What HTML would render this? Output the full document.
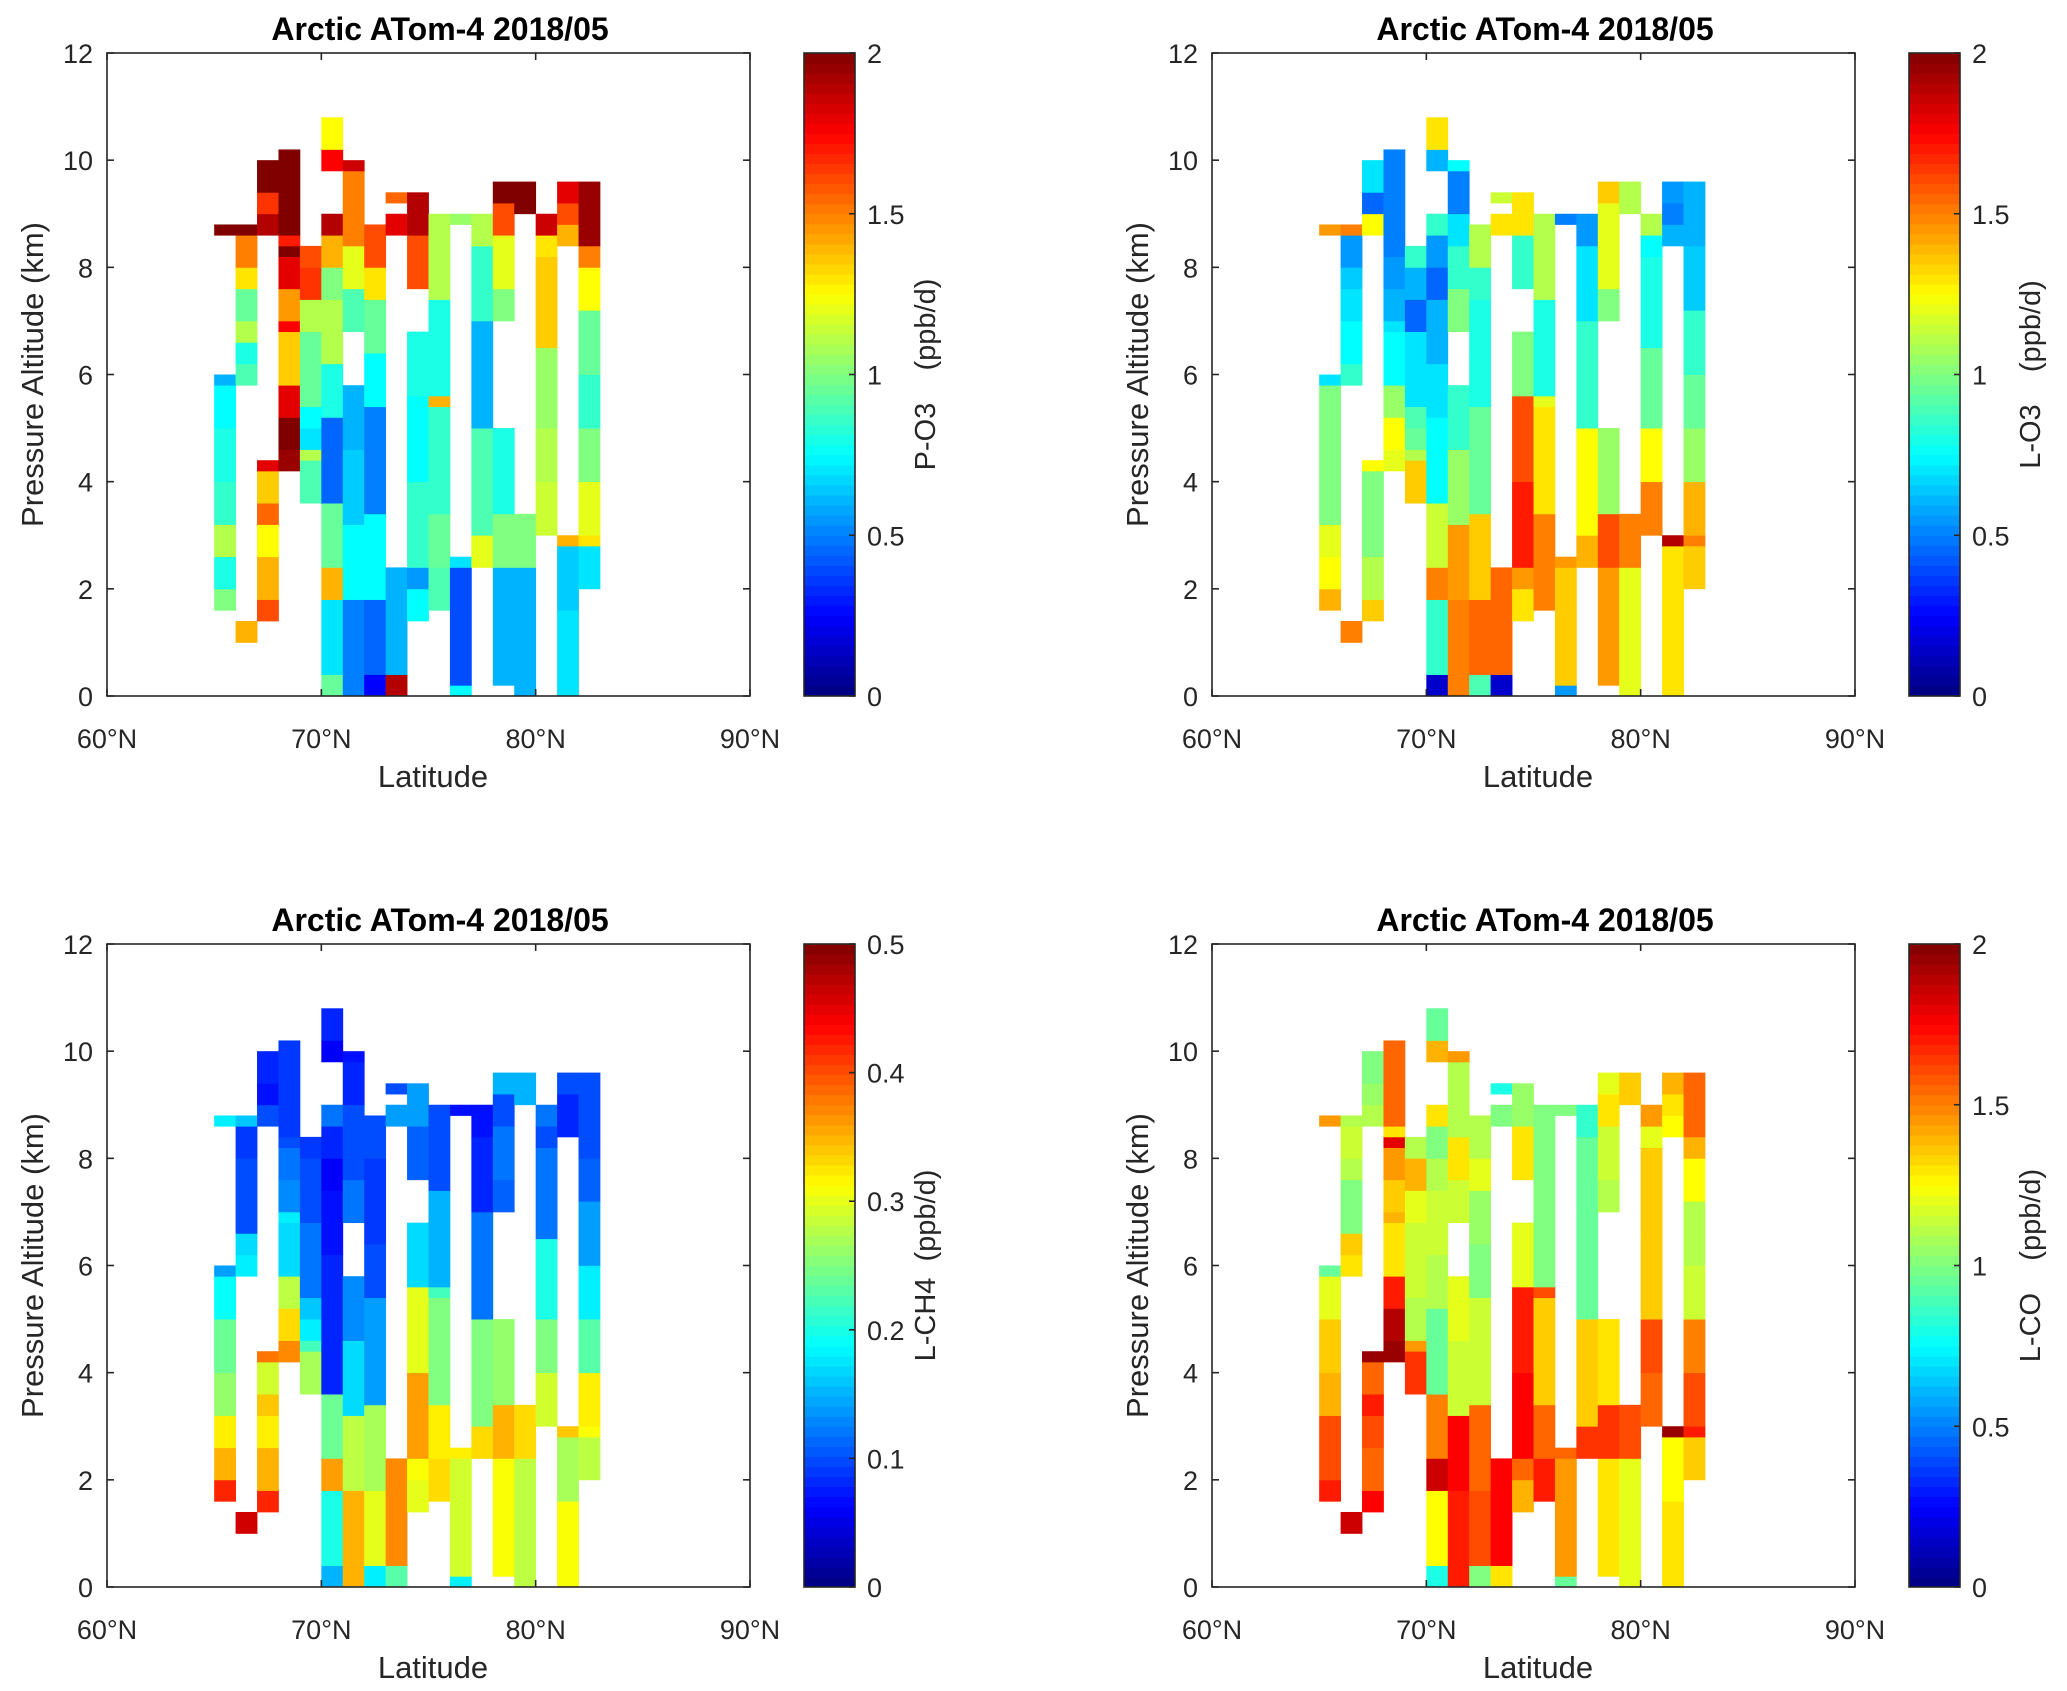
<!DOCTYPE html>
<html><head><meta charset="utf-8"><style>
html,body{margin:0;padding:0;background:#fff;}
svg{display:block;font-family:"Liberation Sans",Arial,sans-serif;}
</style></head><body>
<svg id="fig" width="2067" height="1691" viewBox="0 0 2067 1691" xmlns="http://www.w3.org/2000/svg"></svg>
<script>
// Shared bin segments [latitude bin start, z bottom km, z top km]
const segments = [
[65,1.6,2.0],[65,2.0,2.6],[65,2.6,3.2],[65,3.2,4.0],[65,4.0,5.0],[65,5.0,5.8],[65,5.8,6.0],[65,8.6,8.8],
[66,1.0,1.4],[66,5.8,6.2],[66,6.2,6.6],[66,6.6,7.0],[66,7.0,7.6],[66,7.6,8.0],[66,8.0,8.6],[66,8.6,8.8],
[67,1.4,1.8],[67,1.8,2.6],[67,2.6,3.2],[67,3.2,3.6],[67,3.6,4.2],[67,4.2,4.4],[67,8.6,9.0],[67,9.0,9.4],[67,9.4,10.0],
[68,4.2,4.6],[68,4.6,5.2],[68,5.2,5.8],[68,5.8,6.8],[68,6.8,7.0],[68,7.0,7.6],[68,7.6,8.2],[68,8.2,8.4],[68,8.4,8.6],[68,8.6,10.2],
[69,3.6,4.4],[69,4.4,4.6],[69,4.6,5.0],[69,5.0,5.4],[69,5.4,6.8],[69,6.8,7.4],[69,7.4,8.0],[69,8.0,8.4],
[70,0,0.4],[70,0.4,1.8],[70,1.8,2.4],[70,2.4,3.6],[70,3.6,5.2],[70,5.2,6.2],[70,6.2,7.4],[70,7.4,8.0],[70,8.0,8.6],[70,8.6,9.0],[70,9.8,10.2],[70,10.2,10.8],
[71,0,1.8],[71,1.8,3.2],[71,3.2,4.6],[71,4.6,5.8],[71,6.8,7.6],[71,7.6,8.4],[71,8.4,9.0],[71,9.0,9.8],[71,9.8,10.0],
[72,0,0.4],[72,0.4,1.8],[72,1.8,3.4],[72,3.4,5.4],[72,5.4,6.4],[72,6.4,7.4],[72,7.4,8.0],[72,8.0,8.8],
[73,0,0.4],[73,0.4,2.4],[73,8.6,9.0],[73,9.2,9.4],
[74,1.4,2.0],[74,2.0,2.4],[74,2.4,4.0],[74,4.0,5.6],[74,5.6,6.8],[74,7.6,8.6],[74,8.6,9.4],
[75,1.6,2.4],[75,2.4,3.4],[75,3.4,5.4],[75,5.4,5.6],[75,5.6,7.4],[75,7.4,9.0],
[76,0,0.2],[76,0.2,2.4],[76,2.4,2.6],[76,8.8,9.0],
[77,2.4,3.0],[77,3.0,5.0],[77,5.0,7.0],[77,7.0,8.4],[77,8.4,9.0],
[78,0.2,2.4],[78,2.4,3.4],[78,3.4,5.0],[78,7.0,7.6],[78,7.6,8.6],[78,8.6,9.2],[78,9.2,9.6],
[79,0,2.4],[79,2.4,3.4],[79,9.0,9.6],
[80,3.0,4.0],[80,4.0,5.0],[80,5.0,6.5],[80,6.5,8.2],[80,8.2,8.6],[80,8.6,9.0],
[81,0,1.6],[81,1.6,2.8],[81,2.8,3.0],[81,8.4,8.8],[81,8.8,9.2],[81,9.2,9.6],
[82,2.0,2.8],[82,2.8,3.0],[82,3.0,4.0],[82,4.0,5.0],[82,5.0,6.0],[82,6.0,7.2],[82,7.2,8.0],[82,8.0,8.4],[82,8.4,9.6]
];
const valsPO3 = [
1.0,0.8,1.1,0.85,0.8,0.75,0.6,2.0,
1.4,0.9,0.8,1.1,0.95,1.3,1.5,2.0,
1.6,1.4,1.25,1.55,1.35,1.8,1.9,1.65,2.0,
1.95,2.0,1.8,1.35,1.75,1.45,1.8,2.0,1.7,2.0,
0.9,1.1,0.7,0.75,0.95,1.1,1.65,1.6,
0.95,0.7,1.4,0.95,0.45,0.8,1.1,1.0,1.4,1.9,1.75,1.25,
0.5,0.75,0.65,0.6,0.9,1.2,1.5,1.5,1.85,
0.25,0.45,0.75,0.5,0.75,0.95,1.3,1.6,
1.9,0.6,1.8,1.55,
0.75,0.55,0.85,0.75,0.8,1.6,1.9,
0.9,0.95,0.85,1.4,0.8,1.1,
0.75,0.4,0.7,1.05,
1.2,0.9,0.6,0.85,1.1,
0.6,1.0,0.8,1.0,1.2,1.6,2.0,
0.6,1.0,2.0,
1.15,1.1,1.05,1.35,1.3,1.85,
0.7,0.65,1.4,1.4,1.6,1.8,
0.7,1.3,1.2,1.0,0.85,0.95,1.25,1.5,1.95
];
const valsLO3 = [
1.4,1.25,1.2,1.0,1.0,1.0,0.7,1.45,
1.5,0.85,0.75,0.75,0.7,0.65,0.55,1.5,
1.35,1.1,1.0,1.0,1.0,1.25,1.25,0.45,0.7,
1.2,1.25,1.05,0.75,0.7,0.6,0.55,0.5,0.5,0.5,
1.35,1.1,0.95,0.9,0.7,0.45,0.6,0.85,
0.15,0.85,1.5,1.15,0.75,0.7,0.6,0.45,0.55,0.85,0.6,1.3,
1.5,1.45,1.05,0.85,1.0,0.85,0.7,0.5,0.75,
0.9,1.55,1.35,0.95,0.8,0.8,0.85,1.1,
0.15,1.55,1.3,1.15,
1.3,1.45,1.7,1.6,1.0,0.85,1.3,
1.5,1.5,1.3,1.2,0.8,1.1,
0.55,1.35,1.45,0.5,
1.4,1.25,0.85,0.7,0.55,
1.45,1.6,1.05,1.0,1.2,1.2,1.35,
1.2,1.5,1.1,
1.5,1.25,0.95,0.8,0.75,1.1,
1.3,1.3,1.9,0.6,0.5,0.55,
1.35,1.5,1.4,1.05,0.95,0.85,0.65,0.65,0.6
];
const valsLCH4 = [
0.42,0.35,0.32,0.26,0.24,0.19,0.14,0.18,
0.46,0.18,0.17,0.1,0.1,0.1,0.09,0.16,
0.42,0.35,0.32,0.34,0.29,0.38,0.1,0.07,0.08,
0.37,0.33,0.28,0.17,0.18,0.13,0.12,0.1,0.09,0.09,
0.27,0.22,0.18,0.16,0.12,0.1,0.1,0.09,
0.15,0.2,0.36,0.24,0.08,0.08,0.07,0.06,0.08,0.12,0.06,0.08,
0.35,0.28,0.17,0.13,0.12,0.1,0.1,0.08,0.07,
0.18,0.3,0.27,0.14,0.1,0.09,0.09,0.1,
0.23,0.37,0.14,0.1,
0.3,0.31,0.36,0.3,0.17,0.11,0.14,
0.33,0.32,0.25,0.22,0.15,0.1,
0.18,0.29,0.32,0.07,
0.33,0.25,0.12,0.08,0.07,
0.31,0.35,0.26,0.11,0.12,0.1,0.15,
0.28,0.33,0.15,
0.29,0.25,0.2,0.12,0.1,0.12,
0.31,0.27,0.34,0.08,0.08,0.1,
0.28,0.31,0.32,0.23,0.18,0.14,0.11,0.1,0.1
];
const valsLCO = [
1.7,1.6,1.6,1.4,1.35,1.2,0.95,1.45,
1.85,1.3,1.35,1.0,1.0,1.1,1.15,1.1,
1.75,1.55,1.6,1.7,1.55,1.95,1.1,1.05,1.0,
1.95,1.9,1.7,1.3,1.4,1.35,1.45,1.8,1.3,1.55,
1.65,1.45,1.1,1.1,1.15,1.2,1.4,1.1,
0.8,1.25,1.85,1.5,0.95,1.1,1.15,1.1,1.0,1.3,1.4,0.95,
1.7,1.75,1.15,1.2,1.15,1.3,1.1,1.1,1.45,
1.0,1.6,1.55,1.15,1.0,1.05,1.2,1.1,
1.3,1.75,1.0,0.8,
1.4,1.55,1.75,1.7,1.2,1.3,1.05,
1.7,1.55,1.35,1.6,1.0,1.0,
0.95,1.45,1.55,1.0,
1.65,1.35,0.95,0.95,0.85,
1.3,1.65,1.3,1.1,1.15,1.3,1.2,
1.2,1.6,1.35,
1.55,1.6,1.35,1.35,1.2,1.45,
1.3,1.25,1.95,1.25,1.3,1.4,
1.35,1.7,1.6,1.5,1.15,1.1,1.25,1.4,1.55
];
const xTickLabels = ["60°N","70°N","80°N","90°N"];
const xTicks = [60,70,80,90];
const yTicks = [0,2,4,6,8,10,12];
const cbTicksO3 = [0,0.5,1,1.5,2];
const cbTicksCH4 = [0,0.1,0.2,0.3,0.4,0.5];

const NS="http://www.w3.org/2000/svg";
const svg=document.getElementById('fig');
function mk(tag,attrs,parent){const e=document.createElementNS(NS,tag);for(const k in attrs)e.setAttribute(k,attrs[k]);(parent||svg).appendChild(e);return e;}
function jet(t){t=Math.max(0,Math.min(1,t));
 const r=Math.max(0,Math.min(1,Math.min(4*t-1.5,-4*t+4.5)));
 const g=Math.max(0,Math.min(1,Math.min(4*t-0.5,-4*t+3.5)));
 const b=Math.max(0,Math.min(1,Math.min(4*t+0.5,-4*t+2.5)));
 return `rgb(${Math.round(r*255)},${Math.round(g*255)},${Math.round(b*255)})`;}

const W=643,H=643;
const NB="\u00a0";
const panels=[
 {x0:107,y0:53,vals:valsPO3,vmax:2,cbt:cbTicksO3,label:"P-O3"+NB+NB+NB+NB+"(ppb/d)",name:"p-o3"},
 {x0:1212,y0:53,vals:valsLO3,vmax:2,cbt:cbTicksO3,label:"L-O3"+NB+NB+NB+NB+"(ppb/d)",name:"l-o3"},
 {x0:107,y0:944,vals:valsLCH4,vmax:0.5,cbt:cbTicksCH4,label:"L-CH4"+NB+NB+"(ppb/d)",name:"l-ch4"},
 {x0:1212,y0:944,vals:valsLCO,vmax:2,cbt:cbTicksO3,label:"L-CO"+NB+NB+NB+NB+"(ppb/d)",name:"l-co"}
];
panels.forEach((p)=>{
 const g=mk('g',{});
 
 
 const xs=lat=>p.x0+(lat-60)/30*W;
 const ys=z=>p.y0+H-(z/12)*H;
 segments.forEach((s,i)=>{
  const r=mk('rect',{x:xs(s[0]).toFixed(2),y:ys(s[2]).toFixed(2),width:(xs(s[0]+1)-xs(s[0])+0.4).toFixed(2),height:(ys(s[1])-ys(s[2])+0.4).toFixed(2),fill:jet(p.vals[i]/p.vmax)},g);
  
  
 });
 const box=mk('rect',{x:p.x0,y:p.y0,width:W,height:H,fill:'none',stroke:'#262626','stroke-width':1.6},g);
 
 
 xTicks.forEach((t,i)=>{
  const x=xs(t);
  mk('line',{x1:x,y1:p.y0+H,x2:x,y2:p.y0+H-7,stroke:'#262626','stroke-width':1.6},g);
  mk('line',{x1:x,y1:p.y0,x2:x,y2:p.y0+7,stroke:'#262626','stroke-width':1.6},g);
  const tx=mk('text',{x:x,y:p.y0+H+52,'text-anchor':'middle','font-size':27,fill:'#262626'},g);
  tx.textContent=xTickLabels[i];
  
  
 });
 yTicks.forEach(t=>{
  const y=ys(t);
  mk('line',{x1:p.x0,y1:y,x2:p.x0+7,y2:y,stroke:'#262626','stroke-width':1.6},g);
  mk('line',{x1:p.x0+W,y1:y,x2:p.x0+W-7,y2:y,stroke:'#262626','stroke-width':1.6},g);
  const tx=mk('text',{x:p.x0-14,y:y+10,'text-anchor':'end','font-size':27,fill:'#262626'},g);
  tx.textContent=String(t);
  
  
 });
 const ti=mk('text',{x:p.x0+333,y:p.y0-13,'text-anchor':'middle','font-size':32,'font-weight':'bold',fill:'#000'},g);
 ti.textContent="Arctic ATom-4 2018/05";
 
 
 const xl=mk('text',{x:p.x0+326,y:p.y0+H+91,'text-anchor':'middle','font-size':31,fill:'#262626'},g);
 xl.textContent="Latitude";
 
 
 const yl=mk('text',{x:0,y:0,'text-anchor':'middle','font-size':31,fill:'#262626',transform:`translate(${p.x0-64},${p.y0+H/2}) rotate(-90)`},g);
 yl.textContent="Pressure Altitude (km)";
 
 
 const cx=p.x0+697,cw=51;
 const cb=mk('g',{},g);
 
 
 const N=64;
 for(let k=0;k<N;k++){
  mk('rect',{x:cx,y:(p.y0+H-(k+1)*H/N).toFixed(2),width:cw,height:(H/N+0.5).toFixed(2),fill:jet((k+0.5)/N)},cb);
 }
 mk('rect',{x:cx,y:p.y0,width:cw,height:H,fill:'none',stroke:'#262626','stroke-width':1.6},cb);
 p.cbt.forEach(t=>{
  const y=p.y0+H-t/p.vmax*H;
  mk('line',{x1:cx+cw,y1:y,x2:cx+cw-6,y2:y,stroke:'#262626','stroke-width':1.6},cb);
  const tx=mk('text',{x:cx+cw+12,y:y+10,'font-size':27,fill:'#262626'},cb);
  tx.textContent=String(t);
  
  
 });
 const cl=mk('text',{x:0,y:0,'text-anchor':'middle','font-size':29,fill:'#262626',transform:`translate(${cx+cw+80},${p.y0+H/2}) rotate(-90)`},g);
 cl.textContent=p.label;
 
 
});
</script>
</body></html>
